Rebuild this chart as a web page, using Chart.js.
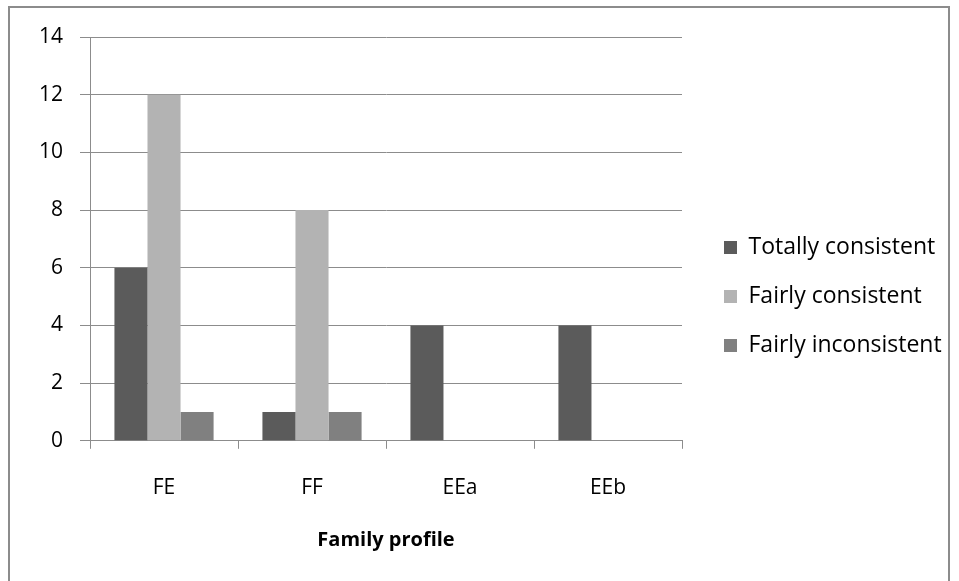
<!DOCTYPE html>
<html><head><meta charset="utf-8">
<script src="https://cdn.jsdelivr.net/npm/chart.js@4"></script>
<style>
html,body{margin:0;padding:0;background:#fff;}
#frame{position:absolute;left:8px;top:6px;width:942px;height:600px;border:2px solid #8c8c8c;box-sizing:border-box;}
canvas{position:absolute;left:0;top:0;}
</style></head><body>
<div id="frame"></div>
<canvas id="c" width="959" height="581"></canvas>
<script>
const categories = ["FE", "FF", "EEa", "EEb"];
const totallyConsistent = [6, 1, 4, 4];
const fairlyConsistent = [12, 8, 0, 0];
const fairlyInconsistent = [1, 1, 0, 0];
const yTicks = [0, 2, 4, 6, 8, 10, 12, 14];
const seriesNames = ["Totally consistent", "Fairly consistent", "Fairly inconsistent"];
const FONT = "'Open Sans', sans-serif";
const LEGEND_WIDTH = 273;
const LEGEND_GAP_EXTRA = 16;

const legendGapPlugin = {
  id: 'legendGap',
  beforeUpdate(chart) {
    const lg = chart.legend;
    if (lg && !lg._gapPatched) {
      const orig = lg.fit.bind(lg);
      lg.fit = function () { orig(); this.width = LEGEND_WIDTH; };
      lg._gapPatched = true;
    }
  },
  afterLayout(chart) {
    const lg = chart.legend;
    if (lg) { lg.left += LEGEND_GAP_EXTRA; }
  }
};

new Chart(document.getElementById('c'), {
  type: 'bar',
  data: {
    labels: categories,
    datasets: [
      {label: seriesNames[0], data: totallyConsistent, backgroundColor: '#5b5b5b'},
      {label: seriesNames[1], data: fairlyConsistent, backgroundColor: '#b3b3b3'},
      {label: seriesNames[2], data: fairlyInconsistent, backgroundColor: '#808080'}
    ]
  },
  plugins: [legendGapPlugin],
  options: {
    responsive: false,
    animation: false,
    devicePixelRatio: 1,
    layout: {padding: {left: 22, top: 37, right: 4, bottom: 25}},
    datasets: {bar: {categoryPercentage: 0.67, barPercentage: 1.0, borderWidth: 0}},
    plugins: {
      tooltip: {enabled: false},
      legend: {
        position: 'right',
        align: 'center',
        labels: {
          boxWidth: 13, boxHeight: 13, padding: 26,
          color: '#000', font: {family: FONT, size: 23}
        }
      }
    },
    scales: {
      x: {
        offset: true,
        grid: {display: true, drawOnChartArea: false, offset: true, color: '#8c8c8c', tickLength: 8, lineWidth: 1},
        border: {color: '#8c8c8c', width: 1},
        ticks: {color: '#000', font: {family: FONT, size: 21}, padding: 27},
        title: {display: true, text: 'Family profile', color: '#000', font: {family: FONT, size: 20, weight: 'bold'}, padding: {top: 0}}
      },
      y: {
        min: 0, max: 14,
        afterBuildTicks: (axis) => { axis.ticks = yTicks.map(v => ({value: v})); },
        grid: {color: '#8c8c8c', tickLength: 10, lineWidth: 1},
        border: {color: '#8c8c8c', width: 1},
        ticks: {color: '#000', font: {family: FONT, size: 21}, padding: 17}
      }
    }
  }
});
</script>
</body></html>
